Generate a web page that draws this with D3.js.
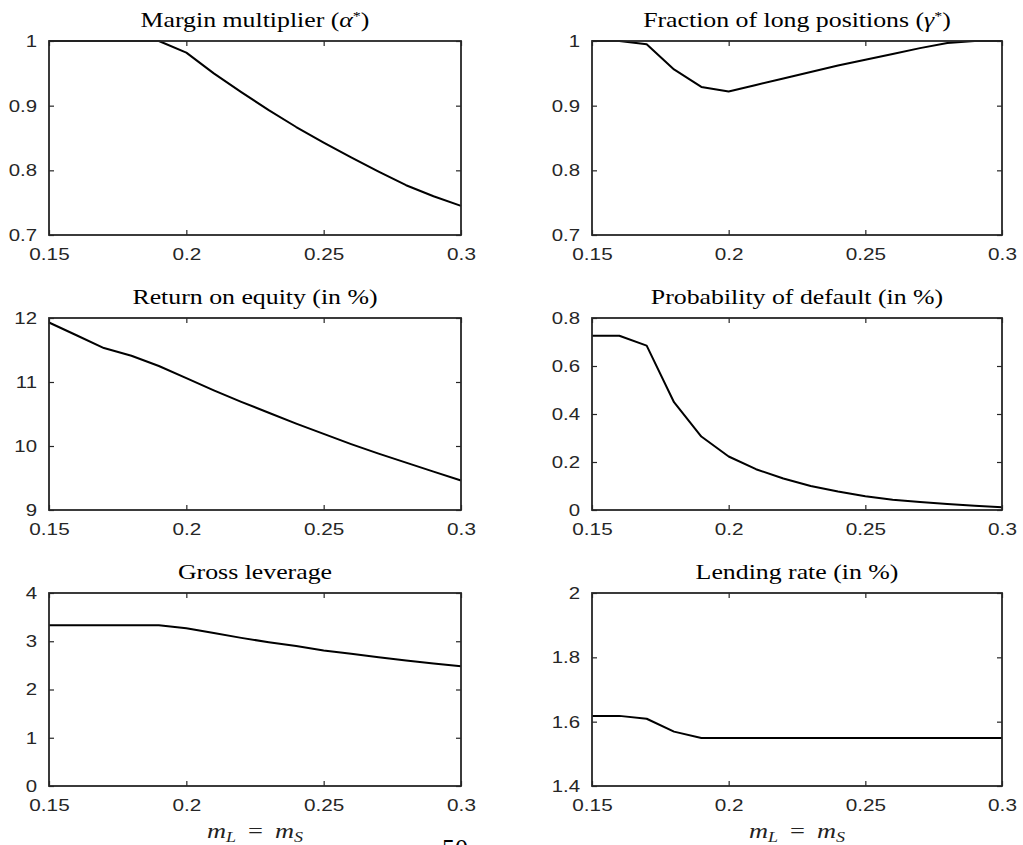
<!DOCTYPE html>
<html>
<head>
<meta charset="utf-8">
<script src="https://cdn.jsdelivr.net/npm/d3@7"></script>
<style>
  body { margin: 0; background: #fff; }
  svg { display: block; }
  .tick text { font-family: "Liberation Sans", Arial, sans-serif; font-size: 17px; fill: #262626; }
  .tick line { stroke: #262626; stroke-width: 1.2; }
  .title { font-family: "Liberation Serif", "DejaVu Serif", serif; font-size: 21px; fill: #000; }
</style>
</head>
<body>
<div id="chart"></div>
<script>
// x grid: m_L = m_S
var mValues = [0.15, 0.16, 0.17, 0.18, 0.19, 0.20, 0.21, 0.22, 0.23, 0.24, 0.25, 0.26, 0.27, 0.28, 0.29, 0.30];

var marginMultiplier = [1, 1, 1, 1, 1, 0.982, 0.950, 0.921, 0.893, 0.867, 0.843, 0.820, 0.798, 0.777, 0.760, 0.745];
var longFraction     = [1, 1, 0.995, 0.956, 0.929, 0.922, 0.932, 0.942, 0.952, 0.962, 0.971, 0.980, 0.989, 0.997, 1, 1];
var returnOnEquity   = [11.93, 11.73, 11.53, 11.41, 11.25, 11.06, 10.87, 10.69, 10.52, 10.35, 10.19, 10.03, 9.88, 9.74, 9.60, 9.46];
var defaultProb      = [0.726, 0.726, 0.685, 0.449, 0.306, 0.223, 0.170, 0.131, 0.100, 0.077, 0.057, 0.043, 0.033, 0.025, 0.018, 0.011];
var grossLeverage    = [3.33, 3.33, 3.33, 3.33, 3.33, 3.27, 3.17, 3.07, 2.98, 2.90, 2.81, 2.74, 2.67, 2.60, 2.54, 2.48];
var lendingRate      = [1.618, 1.618, 1.609, 1.569, 1.549, 1.549, 1.549, 1.549, 1.549, 1.549, 1.549, 1.549, 1.549, 1.549, 1.549, 1.549];

var xTicks = [0.15, 0.2, 0.25, 0.3];
var yTicksMargin   = [0.7, 0.8, 0.9, 1];
var yTicksLong     = [0.7, 0.8, 0.9, 1];
var yTicksRoe      = [9, 10, 11, 12];
var yTicksDefault  = [0, 0.2, 0.4, 0.6, 0.8];
var yTicksLeverage = [0, 1, 2, 3, 4];
var yTicksLending  = [1.4, 1.6, 1.8, 2];

var svgWidth = 1023;
var svgHeight = 845;

var cols = [{left: 49, right: 461}, {left: 592, right: 1002}];
var rows = [{top: 41, bottom: 235}, {top: 318, bottom: 510}, {top: 593, bottom: 786}];

var panels = [
  {col: 0, row: 0, title: [["Margin multiplier ("], ["α", "it"], ["*", "sup"], [")"]], values: marginMultiplier, yTicks: yTicksMargin},
  {col: 1, row: 0, title: [["Fraction of long positions ("], ["γ", "it"], ["*", "sup"], [")"]], values: longFraction, yTicks: yTicksLong},
  {col: 0, row: 1, title: [["Return on equity (in %)"]], values: returnOnEquity, yTicks: yTicksRoe},
  {col: 1, row: 1, title: [["Probability of default (in %)"]], values: defaultProb, yTicks: yTicksDefault},
  {col: 0, row: 2, title: [["Gross leverage"]], values: grossLeverage, yTicks: yTicksLeverage},
  {col: 1, row: 2, title: [["Lending rate (in %)"]], values: lendingRate, yTicks: yTicksLending}
];

var svg = d3.select("#chart")
  .append("svg")
  .attr("width", svgWidth)
  .attr("height", svgHeight);

panels.forEach(function(p) {
  var c = cols[p.col], r = rows[p.row];
  var w = c.right - c.left, h = r.bottom - r.top;

  var x = d3.scaleLinear().domain([0.15, 0.3]).range([0, w]);
  var y = d3.scaleLinear().domain(d3.extent(p.yTicks)).range([h, 0]);

  var g = svg.append("g").attr("transform", `translate(${c.left},${r.top})`);

  // bottom axis with labels, ticks pointing inwards
  var xAxis = g.append("g")
    .attr("transform", `translate(0,${h})`)
    .call(d3.axisBottom(x).tickValues(xTicks).tickSizeInner(-5).tickSizeOuter(0).tickPadding(13).tickFormat(d => String(d)));
  xAxis.select(".domain").remove();
  xAxis.selectAll("text").attr("transform", "scale(1.22,1)");

  // top axis, ticks only
  var xTop = g.append("g")
    .call(d3.axisTop(x).tickValues(xTicks).tickSizeInner(-5).tickSizeOuter(0).tickFormat(""));
  xTop.select(".domain").remove();

  var yAxis = g.append("g")
    .call(d3.axisLeft(y).tickValues(p.yTicks).tickSizeInner(-5).tickSizeOuter(0).tickPadding(10).tickFormat(d => String(d)));
  yAxis.select(".domain").remove();
  yAxis.selectAll("text").attr("transform", "scale(1.2,1)");

  var yRight = g.append("g")
    .attr("transform", `translate(${w},0)`)
    .call(d3.axisRight(y).tickValues(p.yTicks).tickSizeInner(-5).tickSizeOuter(0).tickFormat(""));
  yRight.select(".domain").remove();

  var line = d3.line()
    .x((d, i) => x(mValues[i]))
    .y(d => y(d));

  g.append("path")
    .datum(p.values)
    .attr("d", line)
    .attr("fill", "none")
    .attr("stroke", "#000")
    .attr("stroke-width", 2)
    .attr("stroke-linejoin", "round");

  // frame
  g.append("rect")
    .attr("width", w)
    .attr("height", h)
    .attr("fill", "none")
    .attr("stroke", "#262626")
    .attr("stroke-width", 1.8);

  var title = g.append("text")
    .attr("class", "title")
    .attr("transform", `translate(${w / 2},-14) scale(1.23,1)`)
    .attr("text-anchor", "middle");
  p.title.forEach(function(part) {
    var t = title.append("tspan").text(part[0]);
    if (part[1] === "it") t.style("font-style", "italic");
    if (part[1] === "sup") t.attr("baseline-shift", "super").style("font-size", "13px");
  });
});

// x labels under the bottom row
cols.forEach(function(c) {
  var lbl = svg.append("text")
    .attr("transform", `translate(${(c.left + c.right) / 2},838) scale(1.2,1)`)
    .attr("text-anchor", "middle")
    .style("font-family", "Liberation Serif, serif")
    .style("font-size", "22px")
    .style("font-style", "italic")
    .style("fill", "#222");
  lbl.append("tspan").text("m");
  lbl.append("tspan").text("L").attr("dy", 4).style("font-size", "15px");
  lbl.append("tspan").text("=").attr("dy", -4).attr("dx", 10).style("font-style", "normal");
  lbl.append("tspan").text("m").attr("dx", 10);
  lbl.append("tspan").text("S").attr("dy", 4).style("font-size", "15px");
});

// page number, cut by the bottom edge
svg.append("text")
  .attr("x", 442)
  .attr("y", 857)
  .style("font-family", "Liberation Serif, serif")
  .style("font-size", "26px")
  .text("50");
</script>
</body>
</html>
